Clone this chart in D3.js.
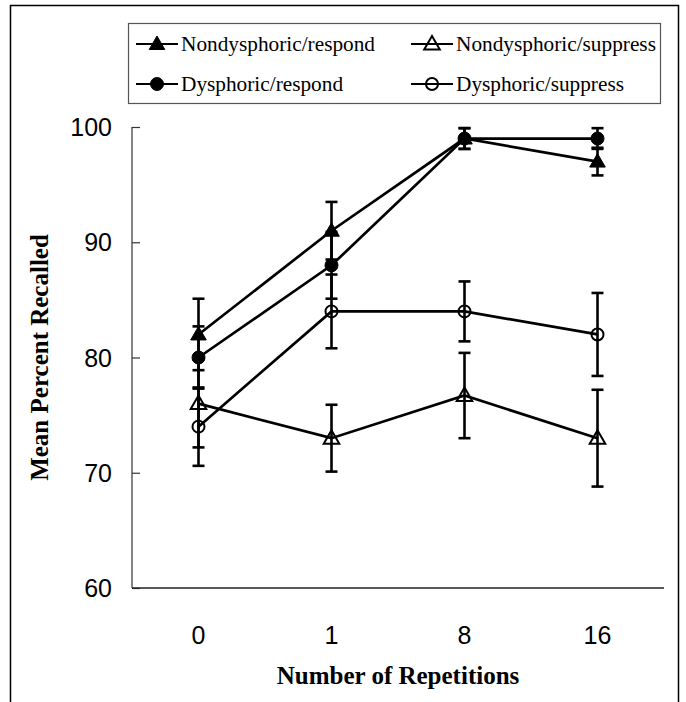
<!DOCTYPE html>
<html>
<head>
<meta charset="utf-8">
<script src="https://d3js.org/d3.v7.min.js"></script>
<style>
  body { margin: 0; background: #fff; }
  svg { display: block; }
</style>
</head>
<body>
<svg width="686" height="702"></svg>
<script>
// dati
var repetitions = ["0", "1", "8", "16"];
var yTicks = [60, 70, 80, 90, 100];

var seriesNames = ["Nondysphoric/respond", "Nondysphoric/suppress", "Dysphoric/respond", "Dysphoric/suppress"];
var ndRespond = [82, 91, 99, 97];
var ndRespondErr = [3.1, 2.5, 0.9, 1.2];
var dRespond = [80, 88, 99, 99];
var dRespondErr = [2.7, 2.9, 0.9, 0.9];
var ndSuppress = [76, 73, 76.7, 73];
var ndSuppressErr = [3.8, 2.9, 3.7, 4.2];
var dSuppress = [74, 84, 84, 82];
var dSuppressErr = [3.4, 3.2, 2.6, 3.6];

var series = [
  { name: seriesNames[0], values: ndRespond, err: ndRespondErr, shape: "triangle", filled: true },
  { name: seriesNames[1], values: ndSuppress, err: ndSuppressErr, shape: "triangle", filled: false },
  { name: seriesNames[2], values: dRespond, err: dRespondErr, shape: "circle", filled: true },
  { name: seriesNames[3], values: dSuppress, err: dSuppressErr, shape: "circle", filled: false }
];

var svg = d3.select("svg");

var plot = { left: 132, right: 664, top: 127, bottom: 588 };

var x = d3.scalePoint()
  .domain(repetitions)
  .range([plot.left, plot.right])
  .padding(0.5);

var y = d3.scaleLinear()
  .domain([60, 100])
  .range([plot.bottom, plot.top]);

// cornice esterna (il lato basso esce dall'immagine)
svg.append("rect")
  .attr("x", 10.5).attr("y", 5.5)
  .attr("width", 668).attr("height", 720)
  .attr("fill", "none")
  .attr("stroke", "#000")
  .attr("stroke-width", 1.5);

//////////// ASSI ////////////

var yAxis = svg.append("g")
  .attr("transform", "translate(" + plot.left + ",0)")
  .call(d3.axisRight(y).tickValues(yTicks).tickSize(8).tickFormat(""));
yAxis.select(".domain").remove();
yAxis.selectAll("line").attr("stroke", "#333").attr("stroke-width", 1.2);

svg.append("line")
  .attr("x1", plot.left).attr("x2", plot.left)
  .attr("y1", plot.top).attr("y2", plot.bottom)
  .attr("stroke", "#333").attr("stroke-width", 1.2);

svg.append("line")
  .attr("x1", plot.left).attr("x2", plot.right)
  .attr("y1", plot.bottom).attr("y2", plot.bottom)
  .attr("stroke", "#222").attr("stroke-width", 1.5);

svg.append("g").selectAll("text")
  .data(yTicks)
  .enter().append("text")
  .attr("x", plot.left - 20)
  .attr("y", function(d) { return y(d); })
  .attr("dy", "0.36em")
  .attr("text-anchor", "end")
  .style("font-family", "'Liberation Sans', Arial, sans-serif")
  .style("font-size", "25px")
  .text(function(d) { return d; });

svg.append("g").selectAll("text")
  .data(repetitions)
  .enter().append("text")
  .attr("x", function(d) { return x(d); })
  .attr("y", 644)
  .attr("text-anchor", "middle")
  .style("font-family", "'Liberation Sans', Arial, sans-serif")
  .style("font-size", "25px")
  .text(function(d) { return d; });

svg.append("text")
  .attr("x", 398).attr("y", 684)
  .attr("text-anchor", "middle")
  .style("font-family", "'Liberation Serif', 'Times New Roman', serif")
  .style("font-weight", "bold")
  .style("font-size", "25px")
  .text("Number of Repetitions");

svg.append("text")
  .attr("transform", "translate(48," + y(80) + ") rotate(-90)")
  .attr("text-anchor", "middle")
  .style("font-family", "'Liberation Serif', 'Times New Roman', serif")
  .style("font-weight", "bold")
  .style("font-size", "25px")
  .text("Mean Percent Recalled");

//////////// DATI ////////////

var triangle = d3.symbol().type(d3.symbolTriangle).size(105);

function drawMarker(g, s) {
  if (s.shape === "triangle") {
    g.append("path")
      .attr("d", triangle)
      .attr("transform", "translate(0,1)");
  } else {
    g.append("circle").attr("r", s.filled ? 6.5 : 6);
  }
  g.select("*")
    .attr("fill", s.filled ? "#000" : "none")
    .attr("stroke", "#000")
    .attr("stroke-width", s.filled ? 1 : 2);
}

var line = d3.line()
  .x(function(d, i) { return x(repetitions[i]); })
  .y(function(d) { return y(d); });

// barre d'errore
series.forEach(function(s) {
  var g = svg.append("g").attr("stroke", "#000").attr("stroke-width", 2.6);
  s.values.forEach(function(v, i) {
    var cx = x(repetitions[i]);
    var hi = y(v + s.err[i]), lo = y(v - s.err[i]);
    g.append("line").attr("x1", cx).attr("x2", cx).attr("y1", hi).attr("y2", lo);
    g.append("line").attr("x1", cx - 6).attr("x2", cx + 6).attr("y1", hi).attr("y2", hi);
    g.append("line").attr("x1", cx - 6).attr("x2", cx + 6).attr("y1", lo).attr("y2", lo);
  });
});

// linee
series.forEach(function(s) {
  svg.append("path")
    .datum(s.values)
    .attr("d", line)
    .attr("fill", "none")
    .attr("stroke", "#000")
    .attr("stroke-width", 2.7);
});

// marcatori
series.forEach(function(s) {
  s.values.forEach(function(v, i) {
    var g = svg.append("g")
      .attr("transform", "translate(" + x(repetitions[i]) + "," + y(v) + ")");
    drawMarker(g, s);
  });
});

//////////// LEGENDA ////////////

svg.append("rect")
  .attr("x", 128.5).attr("y", 23.5)
  .attr("width", 532).attr("height", 80)
  .attr("fill", "none")
  .attr("stroke", "#555")
  .attr("stroke-width", 1.2);

var legendPos = [
  { x: 136, y: 44 }, { x: 411, y: 44 },
  { x: 136, y: 84 }, { x: 411, y: 84 }
];

series.forEach(function(s, i) {
  var p = legendPos[i];
  var g = svg.append("g").attr("transform", "translate(" + p.x + "," + p.y + ")");
  g.append("line")
    .attr("x1", 0).attr("x2", 42)
    .attr("stroke", "#000").attr("stroke-width", 2);
  var m = g.append("g").attr("transform", "translate(21,0)");
  drawMarker(m, s);
  g.append("text")
    .attr("x", 45)
    .attr("dy", "0.33em")
    .style("font-family", "'Liberation Serif', 'Times New Roman', serif")
    .style("font-size", "21.3px")
    .text(s.name);
});
</script>
</body>
</html>
